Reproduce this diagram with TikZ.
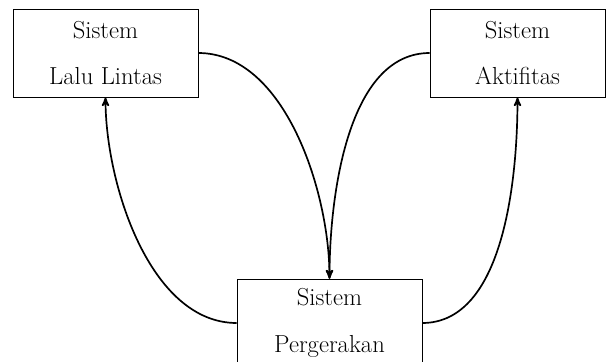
\documentclass[tikz,border=0pt]{standalone}
\usepackage{tikz}
\usetikzlibrary{arrows,positioning}

\begin{document}
\begin{tikzpicture}[x=0.025cm, y=-0.025cm,
  sistembox/.style={rectangle, draw, thin, minimum height=88*0.025cm, align=center, inner sep=0pt,
    font=\fontsize{17.5}{33}\selectfont},
  link/.style={very thick, ->, >=stealth', looseness=0.85}]
\useasboundingbox (0,0) rectangle (608,362);

\node [sistembox, minimum width=185*0.025cm] (lalulintas) at (105.5,53) {Sistem\\Lalu Lintas};
\node [sistembox, minimum width=175*0.025cm] (aktifitas) at (517.5,53) {Sistem\\Aktifitas};
\node [sistembox, minimum width=185*0.025cm] (pergerakan) at (329.5,323) {Sistem\\Pergerakan};

% ke sistem pergerakan
\draw [link] (lalulintas.east) to[out=0, in=90] (pergerakan.north);
\draw [link] (aktifitas.west) to[out=180, in=90] (pergerakan.north);

% kembali ke atas
\draw [link] (pergerakan.west) to[out=180, in=-90] (lalulintas.south);
\draw [link] (pergerakan.east) to[out=0, in=-90] (aktifitas.south);

\end{tikzpicture}
\end{document}
